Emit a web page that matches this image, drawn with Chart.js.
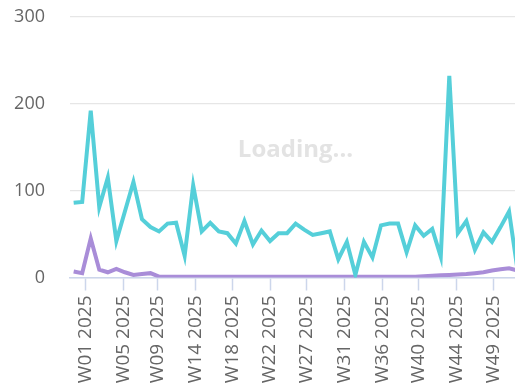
<!DOCTYPE html>
<html>
<head>
<meta charset="utf-8">
<script src="https://cdn.jsdelivr.net/npm/chart.js@4/dist/chart.umd.min.js"></script>
<style>
    html, body { margin: 0; padding: 0; background: #fff; overflow: hidden; }
    #wrap { position: relative; width: 521px; height: 389px; overflow: hidden; }
    #weeklyChart { position: absolute; left: 0; top: -19px; }
    #loading {
        position: absolute; left: 70px; top: 16px; width: 451px; height: 262px;
        display: flex; align-items: center; justify-content: center;
        font: bold 24px 'Open Sans', sans-serif; color: #e3e3e3;
        pointer-events: none;
    }
</style>
</head>
<body>
<div id="wrap">
    <canvas id="weeklyChart" width="521" height="419"></canvas>
    <div id="loading">Loading...</div>
</div>
<script>
// Weekly series (one point per week, weeks start on Sunday)
const firstWeekStart = '2024-12-22';
const openedCounts = [86, 87, 192, 81, 115, 42, 76, 110, 67, 58, 53, 62, 63, 25, 106, 53, 63, 53, 51, 39,
    65, 38, 54, 42, 51, 51, 62, 55, 49, 51, 53, 21, 41, 3, 41, 23, 60, 62, 62, 29,
    60, 48, 56, 24, 232, 51, 65, 32, 52, 41, 58, 76, 8];
const closedCounts = [7, 5, 45, 9, 6, 10, 6, 3, 4, 5, 1, 1, 1, 1, 1, 1, 1, 1, 1, 1,
    1, 1, 1, 1, 1, 1, 1, 1, 1, 1, 1, 1, 1, 1, 1, 1, 1, 1, 1, 1,
    1, 1.5, 2, 2.5, 3, 3.5, 4, 5, 6, 8, 9.5, 10.5, 8];

// Month starts carry the tick labels (ISO week of the 1st)
const tickMonths = [0, 1, 2, 3, 4, 5, 6, 7, 8, 9, 10, 11];
const tickLabels = ['W01 2025', 'W05 2025', 'W09 2025', 'W14 2025', 'W18 2025', 'W22 2025',
    'W27 2025', 'W31 2025', 'W36 2025', 'W40 2025', 'W44 2025', 'W49 2025'];
const yTicks = [0, 100, 200, 300];

const DAY = 86400000;
const yearStart = Date.UTC(2025, 0, 1);
const startDay = (Date.parse(firstWeekStart) - yearStart) / DAY;
const weekDays = openedCounts.map((_, i) => startDay + 7 * i);
const tickDays = tickMonths.map(m => (Date.UTC(2025, m, 1) - yearStart) / DAY);

const toPoints = values => values.map((v, i) => ({ x: weekDays[i], y: v }));

const fontFamily = "'Open Sans', sans-serif";

new Chart(document.getElementById('weeklyChart'), {
    type: 'line',
    data: {
        datasets: [{
            label: 'Opened',
            data: toPoints(openedCounts),
            borderColor: '#55cfd9',
            borderWidth: 4,
            pointRadius: 0,
            tension: 0
        }, {
            label: 'Closed',
            data: toPoints(closedCounts),
            borderColor: '#a98dd8',
            borderWidth: 4,
            pointRadius: 0,
            tension: 0
        }]
    },
    options: {
        responsive: false,
        animation: false,
        devicePixelRatio: 1,
        layout: { padding: 0 },
        plugins: {
            legend: { display: false },
            tooltip: { enabled: false }
        },
        scales: {
            x: {
                type: 'linear',
                min: startDay - 3,
                max: weekDays[weekDays.length - 1],
                afterBuildTicks: axis => {
                    axis.ticks = tickDays.map(v => ({ value: v }));
                },
                afterFit: axis => { axis.height = 122.5; },
                ticks: {
                    autoSkip: false,
                    minRotation: 90,
                    maxRotation: 90,
                    padding: 5,
                    color: '#666',
                    font: { family: fontFamily, size: 19 },
                    callback: value => tickLabels[tickDays.indexOf(value)]
                },
                grid: {
                    drawOnChartArea: false,
                    drawTicks: true,
                    tickLength: 13,
                    tickColor: '#ccd6eb',
                    tickWidth: 1.5
                },
                border: { color: '#ccd6eb', width: 1.5 }
            },
            y: {
                min: 0,
                max: 300,
                afterBuildTicks: axis => {
                    axis.ticks = yTicks.map(v => ({ value: v }));
                },
                afterFit: axis => { axis.width = 70; },
                ticks: {
                    padding: 25,
                    color: '#666',
                    font: { family: fontFamily, size: 18 }
                },
                grid: {
                    color: '#e6e6e6',
                    lineWidth: 1.3,
                    drawTicks: false
                },
                border: { display: false }
            }
        }
    }
});
</script>
</body>
</html>
